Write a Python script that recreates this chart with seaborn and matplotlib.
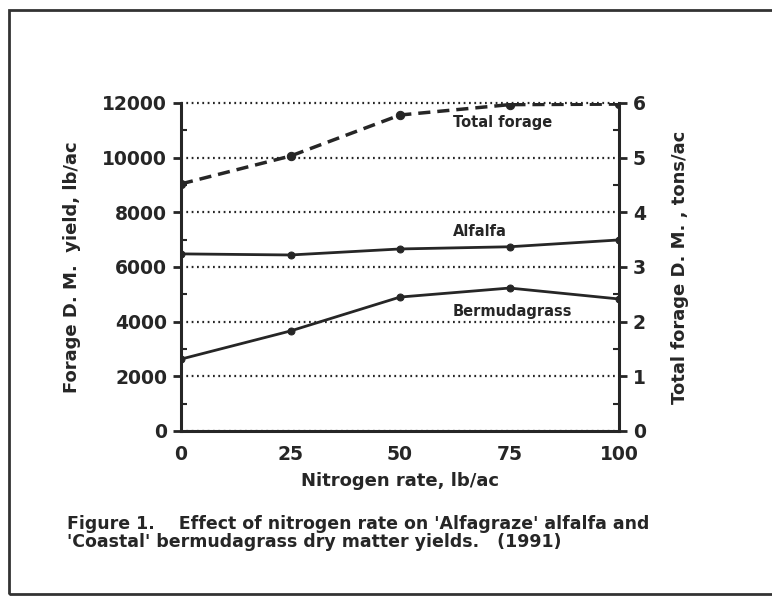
import matplotlib
matplotlib.use('Agg')
import numpy as np
import pandas as pd
import matplotlib.pyplot as plt
import seaborn as sns
from matplotlib.ticker import MultipleLocator
from matplotlib.patches import Rectangle

# --- Data ---
nitrogen = [0, 25, 50, 75, 100]
alfalfa = [6480, 6440, 6660, 6740, 6990]
bermudagrass = [2630, 3660, 4900, 5230, 4830]
total_forage = [4.52, 5.03, 5.78, 5.97, 5.98]

df = pd.DataFrame({'N': nitrogen, 'Alfalfa': alfalfa,
                   'Bermudagrass': bermudagrass, 'Total': total_forage})

sns.set_style('white')
plt.rcParams['font.family'] = ['DejaVu Sans']
plt.rcParams['font.weight'] = 'bold'
ink = '#262626'

fig = plt.figure(figsize=(7.72, 5.97), dpi=100)
ax = fig.add_axes([181 / 772, 1 - 431 / 597, 438 / 772, 328 / 597])

sns.lineplot(data=df, x='N', y='Alfalfa', ax=ax, color=ink, linewidth=2,
             marker='o', markersize=5, markeredgecolor=ink)
sns.lineplot(data=df, x='N', y='Bermudagrass', ax=ax, color=ink, linewidth=2,
             marker='o', markersize=5, markeredgecolor=ink)

ax2 = ax.twinx()
sns.lineplot(data=df, x='N', y='Total', ax=ax2, color=ink, linewidth=2.5,
             linestyle=(0, (3.5, 2)), marker='o', markersize=6, markeredgecolor=ink)

ax.set_xlim(0, 100)
ax.set_ylim(0, 12000)
ax2.set_ylim(0, 6)
ax.xaxis.set_major_locator(MultipleLocator(25))
ax.xaxis.set_minor_locator(MultipleLocator(12.5))
ax.yaxis.set_major_locator(MultipleLocator(2000))
ax.yaxis.set_minor_locator(MultipleLocator(1000))
ax2.yaxis.set_major_locator(MultipleLocator(1))
ax2.yaxis.set_minor_locator(MultipleLocator(0.5))

ax.yaxis.grid(True, which='major', linestyle=(0, (0.8, 1.6)), color=ink, linewidth=1.6)
ax.set_axisbelow(True)
for gl in ax.get_ygridlines():
    gl.set_clip_on(False)

for a in (ax, ax2):
    a.spines['top'].set_visible(False)
    for s in ('left', 'right', 'bottom'):
        a.spines[s].set_linewidth(2.2)
        a.spines[s].set_color(ink)
ax.spines['right'].set_visible(False)
ax2.spines['left'].set_visible(False)
ax2.spines['bottom'].set_visible(False)

ax.tick_params(axis='both', which='major', direction='out', length=6, width=2,
               color=ink, labelsize=13.5, labelcolor=ink, pad=4)
ax.tick_params(axis='both', which='minor', direction='in', length=4, width=1.5, color=ink)
ax2.tick_params(axis='y', which='major', direction='out', length=6, width=2,
                color=ink, labelsize=13.5, labelcolor=ink, pad=4)
ax2.tick_params(axis='y', which='minor', direction='in', length=4, width=1.5, color=ink)

ax.set_xlabel('Nitrogen rate, lb/ac', fontsize=13, fontweight='bold', color=ink, labelpad=6)
ax.set_ylabel('Forage D. M.  yield, lb/ac', fontsize=13, fontweight='bold', color=ink, labelpad=15)
ax2.set_ylabel('Total forage D. M. , tons/ac', fontsize=13, fontweight='bold', color=ink, labelpad=18)

ax.text(62, 11300, 'Total forage', fontsize=10.5, fontweight='bold', color=ink, va='center')
ax.text(62, 7310, 'Alfalfa', fontsize=10.5, fontweight='bold', color=ink, va='center')
ax.text(62, 4380, 'Bermudagrass', fontsize=10.5, fontweight='bold', color=ink, va='center')

fig.text(67 / 772, 1 - 533 / 597,
         "Figure 1.    Effect of nitrogen rate on 'Alfagraze' alfalfa and\n"
         "'Coastal' bermudagrass dry matter yields.   (1991)",
         fontsize=12.5, fontweight='bold', color=ink, va='center', ha='left', linespacing=1.05)

fig.patches.append(Rectangle((9 / 772, 3 / 597), 1, 1 - 13 / 597, transform=fig.transFigure,
                             fill=False, edgecolor='#333333', linewidth=2))

fig.savefig('out.png', dpi=100)
